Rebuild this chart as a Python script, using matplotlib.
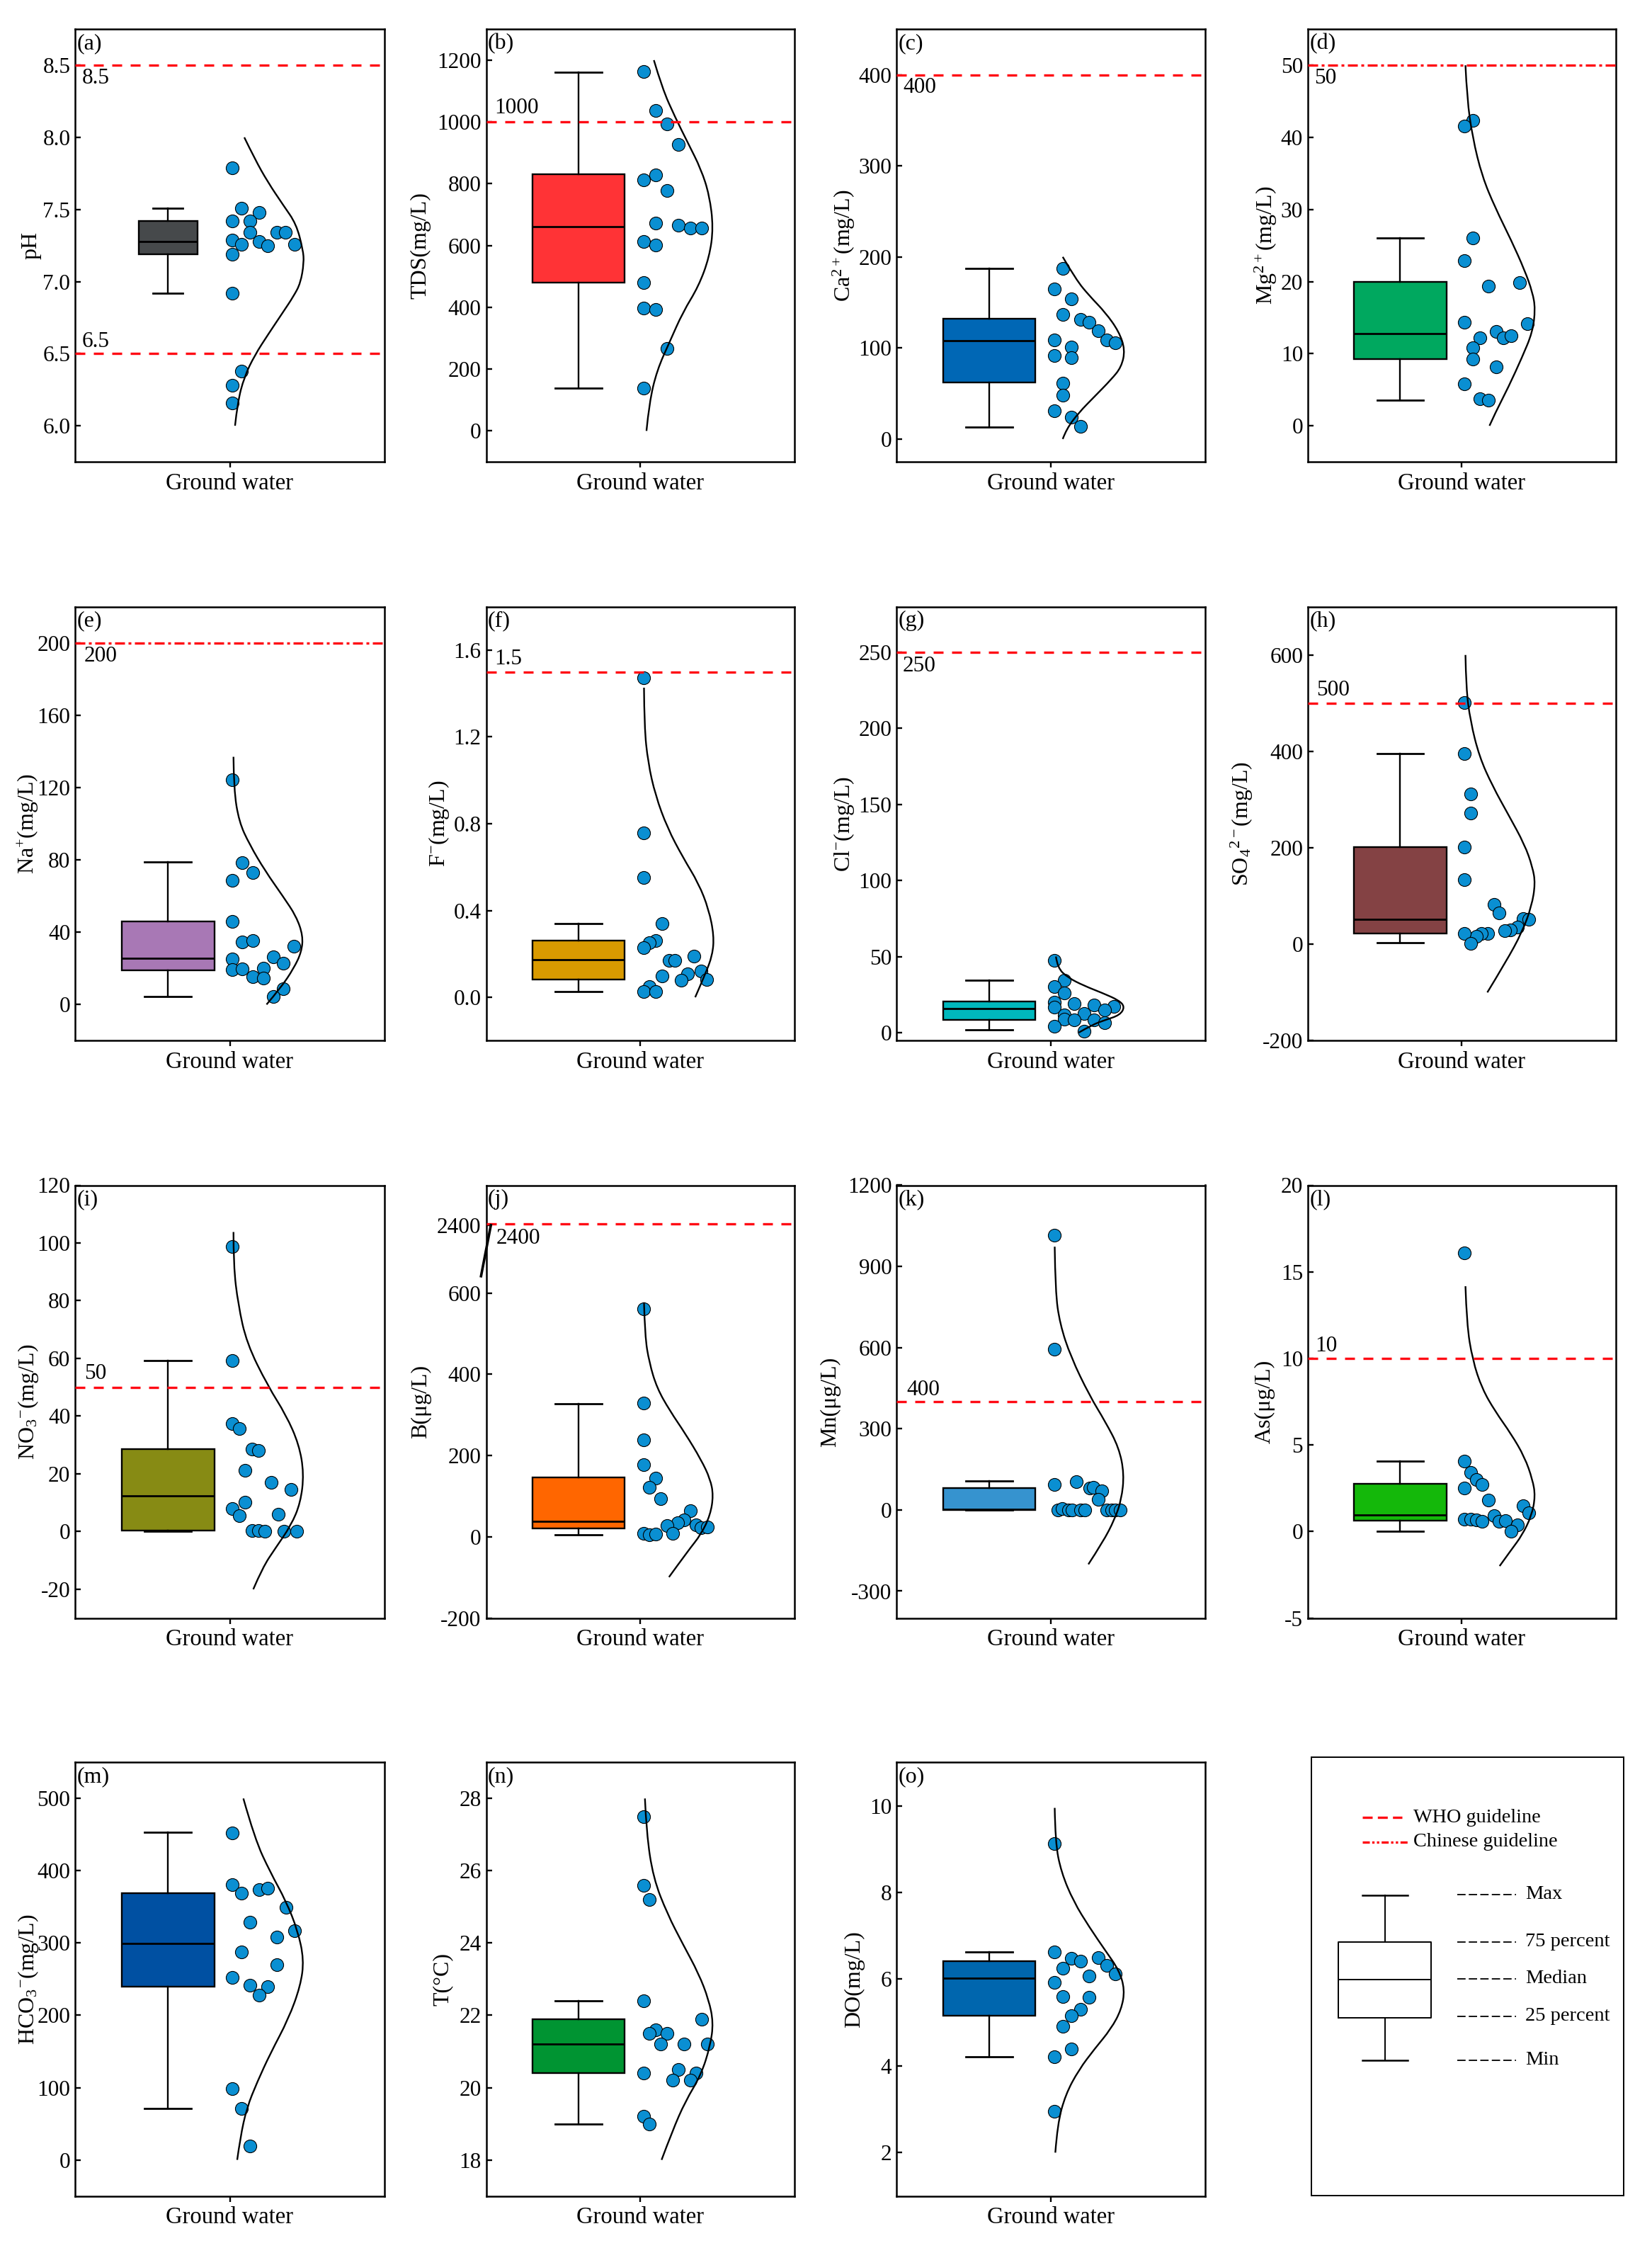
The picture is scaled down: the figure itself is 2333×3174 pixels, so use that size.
import matplotlib
matplotlib.use("Agg")
import numpy as np
import matplotlib.pyplot as plt
from matplotlib.path import Path
from matplotlib.patches import PathPatch

plt.rcParams['font.family'] = ['Liberation Serif', 'DejaVu Sans']
plt.rcParams['mathtext.fontset'] = 'custom'
plt.rcParams['mathtext.rm'] = 'Liberation Serif'
plt.rcParams['mathtext.it'] = 'Liberation Serif'
plt.rcParams['mathtext.bf'] = 'Liberation Serif'
plt.rcParams['mathtext.default'] = 'regular'

# box values: low whisker, q1, median, q3, high whisker
# pts_x / curve_x are offsets from the category centre
ph_box = [6.92, 7.19, 7.28, 7.42, 7.51]
ph_pts_x = [.008, .037, .094, .008, .066, .066, .153, .18, .008, .037, .094, .123, .21, .008, .008, .037, .008, .008]
ph_pts_y = [7.79, 7.51, 7.48, 7.42, 7.42, 7.34, 7.34, 7.34, 7.29, 7.26, 7.28, 7.25, 7.26, 7.19, 6.92, 6.38, 6.28, 6.16]
ph_curve_x = [.047, .081, .123, .173, .215, .237, .24, .229, .207, .173, .123, .081, .047, .025, .017]
ph_curve_y = [8.0, 7.85, 7.69, 7.53, 7.40, 7.22, 7.13, 6.99, 6.90, 6.79, 6.63, 6.49, 6.34, 6.16, 6.0]

tds_box = [138, 480, 660, 830, 1160]
tds_pts_x = [.01, .049, .086, .123, .049, .01, .086, .049, .123, .162, .199, .01, .049, .01, .01, .049, .086, .01]
tds_pts_y = [1162, 1037, 993, 926, 829, 813, 777, 673, 666, 657, 657, 613, 601, 481, 397, 393, 266, 139]
tds_curve_x = [.044, .071, .113, .155, .197, .224, .237, .224, .189, .138, .096, .054, .029, .02]
tds_curve_y = [1200, 1109, 1015, 931, 847, 763, 658, 563, 468, 384, 290, 196, 91, 0]

ca_box = [13.5, 62, 108, 132, 187]
ca_pts_x = [.038, .01, .066, .038, .095, .123, .152, .01, .18, .208, .066, .01, .066, .038, .038, .01, .066, .095]
ca_pts_y = [187, 165, 154, 137, 131, 128, 119, 109, 109, 106, 101, 92, 89, 61, 48, 31, 24, 14]
ca_curve_x = [.038, .081, .125, .176, .22, .24, .228, .194, .142, .09, .05, .038]
ca_curve_y = [200, 175, 157, 139, 118, 98, 79, 65, 47, 29, 11, 0]

mg_box = [3.5, 9.2, 12.8, 20, 26]
mg_pts_x = [.035, .009, .035, .009, .087, .187, .009, .213, .111, .059, .135, .161, .035, .035, .111, .009, .059, .087]
mg_pts_y = [42.4, 41.6, 26, 22.9, 19.4, 19.9, 14.4, 14.2, 13.1, 12.2, 12.2, 12.5, 10.8, 9.2, 8.2, 5.8, 3.7, 3.5]
mg_curve_x = [.012, .017, .035, .066, .109, .161, .204, .23, .239, .23, .196, .152, .109, .09]
mg_curve_y = [50, 45.4, 40, 34.6, 30.2, 25.7, 21.6, 18.5, 16.2, 13, 9.5, 5.4, 1.8, 0]

na_box = [4.3, 19, 25.4, 46, 79]
na_pts_x = [.008, .04, .074, .008, .008, .04, .074, .207, .141, .008, .173, .008, .04, .108, .074, .108, .173, .141]
na_pts_y = [124.3, 78.6, 72.8, 68.6, 46, 34.4, 35.3, 32.3, 26.3, 25, 22.7, 19.3, 19.6, 20, 15.5, 14.6, 8.8, 4.3]
na_curve_x = [.012, .013, .03, .064, .114, .173, .215, .237, .232, .207, .165, .119]
na_curve_y = [137, 119, 101, 88.5, 74, 59.6, 48.8, 38, 29, 20, 9.2, 0]

f_box = [.027, .083, .173, .262, .34]
f_pts_x = [.01, .01, .01, .071, .049, .029, .01, .175, .093, .111, .197, .153, .071, .133, .215, .029, .01, .049]
f_pts_y = [1.474, .759, .552, .341, .26, .251, .229, .191, .171, .171, .122, .108, .099, .078, .083, .048, .026, .026]
f_curve_x = [.012, .013, .025, .049, .088, .138, .189, .222, .239, .234, .21, .178]
f_curve_y = [1.427, 1.247, 1.082, .931, .78, .645, .525, .405, .284, .194, .104, 0]

cl_box = [1.7, 8.3, 15.8, 20.3, 34.2]
cl_pts_x = [.01, .042, .01, .042, .01, .074, .14, .204, .173, .01, .107, .042, .042, .074, .14, .173, .01, .107]
cl_pts_y = [47.5, 34.2, 30.4, 25.9, 19.9, 19, 18.2, 17.1, 14.8, 16.5, 12.6, 11.5, 9, 8.3, 8.3, 6.6, 4.1, .9]
cl_curve_x = [.016, .021, .055, .107, .168, .22, .239, .223, .176, .133, .09]
cl_curve_y = [50, 42.6, 36.1, 30.8, 25.9, 21.2, 16.9, 11.5, 8.3, 5.1, 0]

so4_box = [3, 22, 52, 202, 396]
so4_pts_x = [.009, .009, .029, .029, .009, .009, .104, .121, .199, .218, .18, .159, .14, .085, .064, .048, .009, .029]
so4_pts_y = [501, 396, 311, 272, 202, 134, 83, 65, 53, 51, 36, 30, 28, 22, 22, 16, 22, 1]
so4_curve_x = [.012, .014, .028, .057, .1, .152, .204, .23, .239, .227, .196, .144, .083]
so4_curve_y = [600, 531, 463, 389, 328, 268, 207, 160, 126, 79, 25, -36, -100]

no3_box = [0, .3, 12.5, 28.5, 59.3]
no3_pts_x = [.008, .008, .008, .03, .072, .092, .05, .134, .198, .05, .008, .03, .156, .072, .092, .113, .176, .217]
no3_pts_y = [98.7, 59.2, 37.5, 35.7, 28.5, 28.2, 21.3, 17, 14.5, 10.2, 7.9, 5.6, 6.1, .3, .3, 0, 0, 0]
no3_curve_x = [.012, .012, .027, .055, .123, .182, .224, .24, .229, .198, .148, .106, .076]
no3_curve_y = [103.8, 92.2, 78.7, 65.2, 50.5, 40.4, 30.2, 20.1, 10, 2.1, -5.7, -12.5, -20]

b_box = [5, 21, 38, 146, 328]
b_pts_x = [.01, .01, .01, .01, .049, .029, .066, .162, .141, .121, .086, .18, .197, .217, .01, .104, .029, .049]
b_pts_y = [561, 329, 238, 178, 145, 121, 94, 64, 42, 34, 28, 30, 22, 25, 9, 9, 5, 6]
b_curve_x = [.012, .015, .029, .054, .096, .146, .197, .227, .237, .227, .197, .155, .093]
b_curve_y = [577, 494, 429, 366, 310, 254, 190, 142, 102, 54, 6, -34, -99]

mn_box = [0, 0, 3, 82, 107]
mn_pts_x = [.01, .01, .01, .081, .126, .137, .164, .152, .022, .036, .057, .068, .095, .109, .18, .196, .209, .223]
mn_pts_y = [1015, 594, 94, 105, 81, 83, 71, 40, 0, 5, 0, 0, 0, 0, 0, 0, 0, 0]
mn_curve_x = [.012, .014, .029, .064, .125, .176, .22, .237, .228, .206, .168, .121]
mn_curve_y = [973, 807, 687, 566, 422, 326, 230, 133, 37, -35, -119, -201]

as_box = [.02, .62, .98, 2.74, 4.06]
as_pts_x = [.009, .009, .029, .048, .066, .009, .087, .199, .218, .104, .009, .029, .048, .066, .121, .142, .182, .161]
as_pts_y = [16.1, 4.06, 3.42, 2.99, 2.71, 2.52, 1.82, 1.48, 1.07, .92, .73, .73, .68, .6, .58, .62, .39, .02]
as_curve_x = [.012, .016, .035, .066, .109, .161, .204, .23, .239, .227, .196, .161, .123]
as_curve_y = [14.17, 12.0, 9.91, 8.25, 6.93, 5.62, 4.31, 3.0, 2.05, .92, -.21, -1.05, -1.99]

hco3_box = [71, 240, 299, 369, 453]
hco3_pts_x = [.008, .008, .037, .094, .123, .182, .066, .21, .153, .037, .153, .008, .066, .123, .094, .008, .037, .066]
hco3_pts_y = [452, 381, 369, 374, 376, 349, 329, 317, 308, 288, 270, 252, 242, 240, 228, 99, 71, 19]
hco3_curve_x = [.044, .081, .131, .182, .22, .24, .229, .19, .131, .089, .055, .034, .024]
hco3_curve_y = [500, 444, 398, 358, 317, 277, 241, 195, 147, 108, 72, 31, 0]

t_box = [19, 20.4, 21.2, 21.9, 22.4]
t_pts_x = [.01, .01, .029, .01, .199, .049, .029, .086, .066, .141, .217, .01, .123, .18, .104, .162, .01, .029]
t_pts_y = [27.5, 25.6, 25.2, 22.4, 21.9, 21.6, 21.5, 21.5, 21.2, 21.2, 21.2, 20.4, 20.5, 20.4, 20.2, 20.2, 19.2, 19]
t_curve_x = [.015, .02, .042, .088, .138, .189, .222, .237, .227, .197, .146, .104, .069]
t_curve_y = [28, 27.05, 25.8, 24.8, 23.97, 23.16, 22.43, 21.8, 21.16, 20.35, 19.62, 18.8, 18]

do_box = [4.21, 5.15, 6.02, 6.41, 6.63]
do_pts_x = [.01, .01, .066, .095, .152, .18, .038, .208, .123, .01, .038, .123, .095, .066, .038, .066, .01, .01]
do_pts_y = [9.13, 6.63, 6.48, 6.41, 6.49, 6.32, 6.26, 6.12, 6.08, 5.93, 5.6, 5.59, 5.31, 5.16, 4.91, 4.39, 4.21, 2.96]
do_curve_x = [.012, .014, .033, .073, .125, .176, .22, .239, .228, .194, .142, .09, .047, .021, .014]
do_curve_y = [9.95, 9.15, 8.47, 7.79, 7.19, 6.66, 6.21, 5.76, 5.3, 4.85, 4.4, 3.91, 3.34, 2.66, 2.0]

point_color = '#0a8fd2'

# letter, ylabel, colour, ylim, ticks, tick labels, box, points x/y, curve x/y, box width, label x
panels = [
    ('(a)', 'pH', '#46494b', (5.75, 8.75), [6, 6.5, 7, 7.5, 8, 8.5], ['6.0', '6.5', '7.0', '7.5', '8.0', '8.5'],
     ph_box, ph_pts_x, ph_pts_y, ph_curve_x, ph_curve_y, .19, -.143),
    ('(b)', 'TDS(mg/L)', '#ff3336', (-100, 1300), [0, 200, 400, 600, 800, 1000, 1200], ['0', '200', '400', '600', '800', '1000', '1200'],
     tds_box, tds_pts_x, tds_pts_y, tds_curve_x, tds_curve_y, .30, -.212),
    ('(c)', 'Ca$^{2+}$(mg/L)', '#0067b5', (-25, 450), [0, 100, 200, 300, 400], ['0', '100', '200', '300', '400'],
     ca_box, ca_pts_x, ca_pts_y, ca_curve_x, ca_curve_y, .30, -.171),
    ('(d)', 'Mg$^{2+}$(mg/L)', '#00a85f', (-5, 55), [0, 10, 20, 30, 40, 50], ['0', '10', '20', '30', '40', '50'],
     mg_box, mg_pts_x, mg_pts_y, mg_curve_x, mg_curve_y, .30, -.137),
    ('(e)', 'Na$^{+}$(mg/L)', '#a878b5', (-20, 220), [0, 40, 80, 120, 160, 200], ['0', '40', '80', '120', '160', '200'],
     na_box, na_pts_x, na_pts_y, na_curve_x, na_curve_y, .30, -.151),
    ('(f)', 'F$^{-}$(mg/L)', '#d99a00', (-.2, 1.8), [0, .4, .8, 1.2, 1.6], ['0.0', '0.4', '0.8', '1.2', '1.6'],
     f_box, f_pts_x, f_pts_y, f_curve_x, f_curve_y, .30, -.153),
    ('(g)', 'Cl$^{-}$(mg/L)', '#00b8bd', (-5.3, 280), [0, 50, 100, 150, 200, 250], ['0', '50', '100', '150', '200', '250'],
     cl_box, cl_pts_x, cl_pts_y, cl_curve_x, cl_curve_y, .30, -.171),
    ('(h)', 'SO$_{4}$$^{2-}$(mg/L)', '#844244', (-200, 700), [-200, 0, 200, 400, 600], ['-200', '0', '200', '400', '600'],
     so4_box, so4_pts_x, so4_pts_y, so4_curve_x, so4_curve_y, .30, -.215),
    ('(i)', 'NO$_{3}$$^{-}$(mg/L)', '#878b14', (-30, 120), [-20, 0, 20, 40, 60, 80, 100, 120], ['-20', '0', '20', '40', '60', '80', '100', '120'],
     no3_box, no3_pts_x, no3_pts_y, no3_curve_x, no3_curve_y, .30, -.151),
    ('(j)', 'B(μg/L)', '#ff6600', (-200, 865), [-200, 0, 200, 400, 600, 767], ['-200', '0', '200', '400', '600', '2400'],
     b_box, b_pts_x, b_pts_y, b_curve_x, b_curve_y, .30, -.212),
    ('(k)', 'Mn(μg/L)', '#3693cf', (-400, 1200), [-300, 0, 300, 600, 900, 1200], ['-300', '0', '300', '600', '900', '1200'],
     mn_box, mn_pts_x, mn_pts_y, mn_curve_x, mn_curve_y, .30, -.215),
    ('(l)', 'As(μg/L)', '#14b80a', (-5, 20), [-5, 0, 5, 10, 15, 20], ['-5', '0', '5', '10', '15', '20'],
     as_box, as_pts_x, as_pts_y, as_curve_x, as_curve_y, .30, -.14),
    ('(m)', 'HCO$_{3}$$^{-}$(mg/L)', '#0050a2', (-50, 550), [0, 100, 200, 300, 400, 500], ['0', '100', '200', '300', '400', '500'],
     hco3_box, hco3_pts_x, hco3_pts_y, hco3_curve_x, hco3_curve_y, .30, -.151),
    ('(n)', 'T(°C)', '#009432', (17, 29), [18, 20, 22, 24, 26, 28], ['18', '20', '22', '24', '26', '28'],
     t_box, t_pts_x, t_pts_y, t_curve_x, t_curve_y, .30, -.14),
    ('(o)', 'DO(mg/L)', '#0066ae', (1, 11), [2, 4, 6, 8, 10], ['2', '4', '6', '8', '10'],
     do_box, do_pts_x, do_pts_y, do_curve_x, do_curve_y, .30, -.137),
]

# guideline value, label, label x / y in axes fraction, is it the Chinese one
guides = {
    '(a)': [(8.5, '8.5', .022, .887, False), (6.5, '6.5', .022, .277, False)],
    '(b)': [(1000, '1000', .027, .818, False)],
    '(c)': [(400, '400', .021, .866, False)],
    '(d)': [(50, '50', .021, .887, True)],
    '(e)': [(200, '200', .029, .886, True)],
    '(f)': [(1.5, '1.5', .027, .88, False)],
    '(g)': [(250, '250', .019, .864, False)],
    '(h)': [(500, '500', .028, .807, False)],
    '(i)': [(50, '50', .029, .565, False)],
    '(j)': [(770, '2400', .032, .878, False)],
    '(k)': [(400, '400', .033, .527, False)],
    '(l)': [(10, '10', .024, .628, False)],
}

WHO_DASH = (0, (4.2, 3.6))
CN_DASH = (0, (4.2, 1.5, 1.2, 1.5))

col_x = [(106.3, 542.7), (686.5, 1122), (1266.2, 1702.3), (1847, 2281.7)]
row_y = [(41.3, 652), (856.7, 1469.3), (1673.5, 2284.7), (2488.3, 3100.6)]
W, H = 2333, 3174


def add_ax(x0, x1, y0, y1):
    return fig.add_axes([x0 / W, 1 - y1 / H, (x1 - x0) / W, (y1 - y0) / H])


def smooth_curve(ax, xs, ys):
    # quadratic spline with the read points as control points
    p = np.column_stack([xs, ys])
    verts = [p[0]]
    codes = [Path.MOVETO]
    for i in range(1, len(p) - 1):
        end = p[i + 1] if i == len(p) - 2 else (p[i] + p[i + 1]) / 2
        verts += [p[i], end]
        codes += [Path.CURVE3, Path.CURVE3]
    ax.add_patch(PathPatch(Path(verts, codes), fill=False, ec='black', lw=1.7, zorder=4))


fig = plt.figure(figsize=(W / 100, H / 100), dpi=100)

for n, panel in enumerate(panels):
    letter, ylabel, color, ylim, ticks, tlabels, box, px, py, cx, cy, bw, lab_x = panel
    ax = add_ax(*col_x[n % 4], *row_y[n // 4])
    stats = [dict(whislo=box[0], q1=box[1], med=box[2], q3=box[3], whishi=box[4], fliers=[])]
    ax.bxp(stats, positions=[.8], widths=bw, capwidths=bw / 2, patch_artist=True, showfliers=False,
           boxprops=dict(facecolor=color, edgecolor='black', lw=1.7),
           medianprops=dict(color='black', lw=2),
           whiskerprops=dict(color='black', lw=1.7),
           capprops=dict(color='black', lw=2))
    ax.scatter(1 + np.array(px), py, s=170, color=point_color, edgecolor='black', linewidth=.8, zorder=3)
    smooth_curve(ax, 1 + np.array(cx), cy)
    for val, txt, tx, ty, chinese in guides.get(letter, []):
        ax.axhline(val, color='#ff0a14', lw=2.4, ls=CN_DASH if chinese else WHO_DASH, zorder=5)
        ax.text(tx, ty, txt, transform=ax.transAxes, fontsize=22.5, va='center', ha='left')
    ax.text(.005, .967, letter, transform=ax.transAxes, fontsize=23, va='center', ha='left')
    ax.set_xlim(.5, 1.5)
    ax.set_ylim(*ylim)
    ax.set_xticks([1], ['Ground water'], fontsize=23.5)
    ax.set_yticks(ticks, tlabels, fontsize=22.5)
    ax.tick_params(axis='y', direction='in', length=6, width=1.7, pad=5)
    ax.tick_params(axis='x', direction='out', length=6, width=1.7, pad=5)
    ax.set_ylabel(ylabel, fontsize=23, va='center')
    ax.yaxis.set_label_coords(lab_x, .5)
    for s in ax.spines.values():
        s.set_linewidth(1.8)
    if letter == '(j)':
        # axis break mark on the left spine
        ax.plot([-.0165, .0155], [.79, .908], color='black', lw=2.6, transform=ax.transAxes,
                clip_on=False, zorder=6)

# legend panel
leg = add_ax(1851.7, 2292.5, 2481.4, 3100)
leg.set_xticks([])
leg.set_yticks([])
leg.set_xlim(0, 1)
leg.set_ylim(0, 1)
for s in leg.spines.values():
    s.set_linewidth(1.4)

leg_stats = [dict(whislo=.308, q1=.406, med=.493, q3=.578, whishi=.685, fliers=[])]
leg.bxp(leg_stats, positions=[.236], widths=.296, capwidths=.145, showfliers=False, manage_ticks=False,
        boxprops=dict(color='black', lw=1.4), medianprops=dict(color='black', lw=1.4),
        whiskerprops=dict(color='black', lw=1.4), capprops=dict(color='black', lw=1.8))

leg.plot([.164, .291], [.863, .863], color='#ff0a14', lw=2.4, ls=(0, (4.2, 2.2)))
leg.plot([.164, .313], [.807, .807], color='#ff0a14', lw=2.4, ls=(0, (3, 1, 1, 1, 1, 1)))
leg.text(.328, .863, 'WHO guideline', fontsize=20.3, va='center')
leg.text(.328, .807, 'Chinese guideline', fontsize=20.3, va='center')

leg_names = ['Max', '75 percent', 'Median', '25 percent', 'Min']
leg_name_y = [.687, .578, .495, .409, .308]
for name, y in zip(leg_names, leg_name_y):
    leg.plot([.467, .656], [y, y], color='black', lw=1.3, ls=(0, (6.5, 2.5)))
    leg.text(.685, y + .001, name, fontsize=20.5, va='center')

fig.savefig('out.png', dpi=100)
